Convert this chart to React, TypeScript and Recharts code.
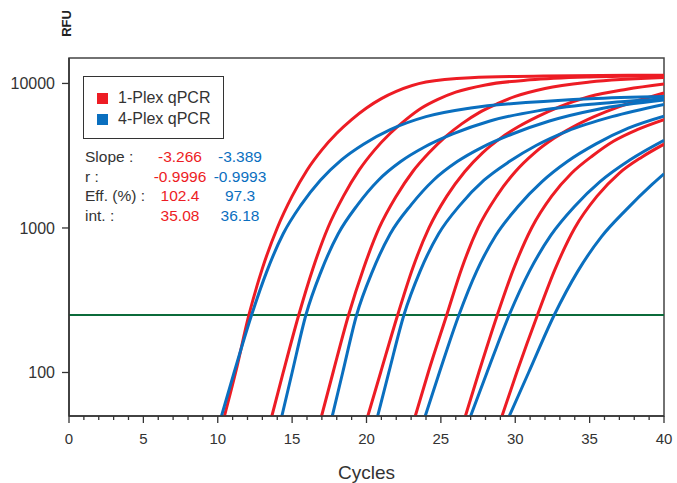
import { LineChart, Line, XAxis, YAxis, ReferenceLine, ReferenceArea } from "recharts";

// [cycle, RFU]
const red1: [number, number][] = [[10.45, 50], [11.2, 100], [12.1, 251], [13, 525], [14, 1000], [15, 1660], [16, 2510], [17, 3470], [18, 4520], [19, 5620], [20, 6760], [21, 7850], [22, 8810], [24, 10230], [27, 10960], [32, 11270], [40, 11400]];
const red2: [number, number][] = [[13.64, 50], [14.4, 100], [15.45, 251], [16.4, 525], [17.4, 1000], [18.45, 1660], [19.5, 2510], [20.55, 3470], [21.6, 4520], [22.65, 5620], [23.7, 6760], [24.8, 7760], [26, 8710], [28, 9770], [31, 10590], [35, 11090], [40, 11300]];
const red3: [number, number][] = [[16.98, 50], [17.75, 100], [18.8, 251], [19.8, 525], [20.85, 1000], [22, 1660], [23.1, 2450], [24.2, 3310], [25.3, 4270], [26.4, 5250], [27.6, 6310], [28.8, 7240], [30, 8130], [32, 9230], [35, 10230], [40, 10990]];
const red4: [number, number][] = [[20.09, 50], [20.95, 100], [22.1, 251], [23.1, 525], [24.2, 1000], [25.4, 1660], [26.6, 2450], [27.8, 3310], [29, 4170], [30.2, 5010], [31.5, 5890], [33, 6920], [35, 8130], [37.5, 9120], [40, 9910]];
const red5: [number, number][] = [[23.28, 50], [24.15, 100], [25.4, 251], [26.4, 525], [27.5, 1000], [28.75, 1660], [30, 2450], [31.3, 3310], [32.6, 4170], [33.9, 5010], [35.3, 5890], [37, 6920], [38.5, 7760], [40, 8610]];
const red6: [number, number][] = [[26.65, 50], [27.55, 100], [28.8, 251], [29.9, 525], [31.1, 1000], [32.45, 1660], [33.8, 2400], [35.2, 3160], [36.6, 3980], [38.2, 4790], [40, 5620]];
const red7: [number, number][] = [[29.11, 50], [30.1, 100], [31.5, 251], [32.7, 525], [34, 1000], [35.5, 1660], [37, 2400], [38.5, 3090], [40, 3800]];

const blue1: [number, number][] = [[10.25, 50], [11.1, 100], [12.28, 251], [13.3, 501], [14.4, 912], [15.6, 1445], [16.9, 2140], [18.3, 2950], [19.8, 3800], [21.6, 4790], [24, 5890], [27, 6760], [31, 7410], [35, 7850], [40, 8130]];
const blue2: [number, number][] = [[14.31, 50], [15, 100], [15.93, 251], [16.95, 501], [18.1, 912], [19.4, 1445], [20.8, 2140], [22.3, 2880], [23.9, 3630], [25.8, 4470], [28.3, 5500], [31.5, 6460], [35.5, 7240], [40, 7850]];
const blue3: [number, number][] = [[17.7, 50], [18.4, 100], [19.34, 251], [20.4, 501], [21.6, 912], [23, 1445], [24.5, 2140], [26.1, 2880], [27.8, 3630], [29.8, 4470], [32.3, 5500], [35.5, 6610], [40, 7670]];
const blue4: [number, number][] = [[20.75, 50], [21.5, 100], [22.52, 251], [23.6, 501], [24.85, 912], [26.3, 1445], [27.9, 2140], [29.6, 2880], [31.4, 3720], [33.5, 4680], [36.5, 5890], [40, 7160]];
const blue5: [number, number][] = [[23.95, 50], [24.9, 100], [26.22, 251], [27.4, 501], [28.7, 891], [30.2, 1413], [31.8, 2090], [33.5, 2880], [35.4, 3800], [37.6, 4900], [40, 5930]];
const blue6: [number, number][] = [[27, 50], [28.1, 100], [29.6, 251], [30.95, 501], [32.4, 891], [34, 1413], [35.7, 2090], [37.7, 2950], [40, 4040]];
const blue7: [number, number][] = [[29.6, 50], [30.9, 100], [32.63, 251], [34.2, 501], [35.8, 871], [37.5, 1350], [39.2, 2000], [40, 2370]];

const redSeries = [red1, red2, red3, red4, red5, red6, red7];
const blueSeries = [blue1, blue2, blue3, blue4, blue5, blue6, blue7];

const threshold = 250;
const xTicks = Array.from({ length: 41 }, (_, i) => i);
const yTicks = [100, 1000, 10000];

const statLabels = ["Slope :", "r :", "Eff. (%) :", "int. :"];
const statsSingle = ["-3.266", "-0.9996", "102.4", "35.08"];
const statsMulti = ["-3.389", "-0.9993", "97.3", "36.18"];

const RED = "#ed1c24";
const BLUE = "#0a6fbf";
const FONT = "'Liberation Sans', Arial, sans-serif";

const toPoints = (s: [number, number][]) => s.map(([cycle, rfu]) => ({ cycle, rfu }));

function XTick(props: any) {
  const { x, y, payload } = props;
  const major = payload.value % 5 === 0;
  return (
    <g>
      <line x1={x} x2={x} y1={y} y2={y + (major ? 7 : 4)} stroke="#333" strokeWidth={1.3} />
      {major && (
        <text x={x} y={y + 28} textAnchor="middle" fontSize={15} fill="#333" fontFamily={FONT}>
          {payload.value}
        </text>
      )}
    </g>
  );
}

export default function App() {
  return (
    <div style={{ position: "absolute", left: 0, top: 0, width: 677, height: 483, background: "#fff", fontFamily: FONT, overflow: "hidden" }}>
      <LineChart width={677} height={483} margin={{ top: 58, right: 13, left: 0, bottom: 37 }}>
        <XAxis
          dataKey="cycle"
          type="number"
          domain={[0, 40]}
          ticks={xTicks}
          interval={0}
          tick={<XTick />}
          tickSize={0}
          tickMargin={0}
          tickLine={false}
          height={30}
          axisLine={{ stroke: "#333", strokeWidth: 1.5 }}
          allowDataOverflow
        />
        <YAxis
          type="number"
          scale="log"
          domain={[50, 15000]}
          ticks={yTicks}
          width={69}
          tickSize={7}
          tickMargin={7}
          tick={{ fontSize: 16, fill: "#333", fontFamily: FONT }}
          tickLine={{ stroke: "#333", strokeWidth: 1.3 }}
          axisLine={{ stroke: "#333", strokeWidth: 1.5 }}
          allowDataOverflow
        />
        <ReferenceArea x1={0} x2={40} y1={50} y2={15000} fill="none" stroke="#444" strokeWidth={1.5} />
        <ReferenceLine y={threshold} stroke="#0b6b3a" strokeWidth={2} />
        {redSeries.map((s, i) => (
          <Line
            key={"r" + i}
            data={toPoints(s)}
            dataKey="rfu"
            type="monotone"
            stroke={RED}
            strokeWidth={3}
            dot={false}
            isAnimationActive={false}
          />
        ))}
        {blueSeries.map((s, i) => (
          <Line
            key={"b" + i}
            data={toPoints(s)}
            dataKey="rfu"
            type="monotone"
            stroke={BLUE}
            strokeWidth={3}
            dot={false}
            isAnimationActive={false}
          />
        ))}
      </LineChart>

      {/* axis titles */}
      <div style={{ position: "absolute", left: 53, top: 16, transform: "rotate(-90deg)", transformOrigin: "center", fontSize: 13, fontWeight: "bold", color: "#222" }}>
        RFU
      </div>
      <div style={{ position: "absolute", left: 0, width: 733, top: 462, textAlign: "center", fontSize: 19, color: "#333" }}>Cycles</div>

      {/* legend */}
      <div style={{ position: "absolute", left: 83, top: 76, width: 139, height: 61, border: "1.5px solid #333", background: "#fff" }}>
        {[["1-Plex qPCR", RED], ["4-Plex qPCR", BLUE]].map(([label, color], i) => (
          <div key={label} style={{ position: "absolute", left: 13, top: 12 + i * 21, display: "flex", alignItems: "center" }}>
            <span style={{ display: "inline-block", width: 11, height: 11, background: color, marginRight: 10 }} />
            <span style={{ fontSize: 16, color: "#333" }}>{label}</span>
          </div>
        ))}
      </div>

      {/* regression stats */}
      {statLabels.map((label, i) => (
        <div key={label} style={{ position: "absolute", top: 148 + i * 19.6, left: 0, fontSize: 15.5, lineHeight: "18px" }}>
          <span style={{ position: "absolute", left: 85, color: "#333", whiteSpace: "nowrap" }}>{label}</span>
          <span style={{ position: "absolute", left: 140, width: 80, textAlign: "center", color: RED }}>{statsSingle[i]}</span>
          <span style={{ position: "absolute", left: 200, width: 80, textAlign: "center", color: BLUE }}>{statsMulti[i]}</span>
        </div>
      ))}
    </div>
  );
}
